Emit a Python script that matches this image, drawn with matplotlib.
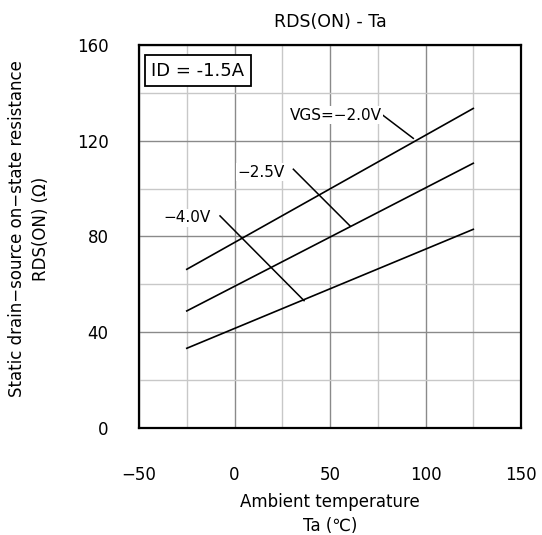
import matplotlib.pyplot as plt
from matplotlib.ticker import MultipleLocator

plt.rcParams['font.family'] = ['DejaVu Sans', 'Noto Sans CJK JP']

# data
ta = [-25, 125]
rds_20 = [66.3, 133.5]   # VGS=-2.0V
rds_25 = [48.9, 110.6]   # -2.5V
rds_40 = [33.3, 83.0]    # -4.0V

series_labels = ['VGS=\u22122.0V', '\u22122.5V', '\u22124.0V']
# leader lines: (x0, y0) -> (x1, y1) in data units
leaders = [((77.6, 130.7), (93.6, 121.0)),
           ((30.8, 108.1), (60.5, 84.4)),
           ((-7.6, 88.6), (36.4, 53.2))]
label_pos = [(77.0, 130.6), (26.4, 106.8), (-12.3, 87.8)]

x_ticks = [-50, 0, 50, 100, 150]
y_ticks = [0, 40, 80, 120, 160]

fig = plt.figure(figsize=(5.42, 5.35), dpi=100)
ax = fig.add_axes([0.2565, 0.2, 0.7048, 0.7159])

ax.set_xlim(-50, 150)
ax.set_ylim(0, 160)
ax.set_xticks(x_ticks)
ax.set_yticks(y_ticks)
ax.xaxis.set_minor_locator(MultipleLocator(25))
ax.yaxis.set_minor_locator(MultipleLocator(20))
ax.grid(which='major', color='#8a8a8a', lw=1.0)
ax.grid(which='minor', color='#c8c8c8', lw=1.0)
ax.set_axisbelow(True)
ax.tick_params(which='both', length=0, labelsize=12)
ax.tick_params(axis='x', pad=27)
ax.tick_params(axis='y', pad=22)
for s in ax.spines.values():
    s.set_linewidth(1.6)
    s.set_color('black')

for ys in (rds_20, rds_25, rds_40):
    ax.plot(ta, ys, color='black', lw=1.2)

for (p0, p1), lab, (lx, ly) in zip(leaders, series_labels, label_pos):
    ax.plot([p0[0], p1[0]], [p0[1], p1[1]], color='black', lw=1.1)
    ax.text(lx, ly, lab, ha='right', va='center', fontsize=11,
            bbox=dict(facecolor='white', edgecolor='none', pad=1))

ax.text(-19.1, 149.3, 'ID = -1.5A', ha='center', va='center', fontsize=13,
        bbox=dict(facecolor='white', edgecolor='black', lw=1.3, pad=5))

ax.set_title('RDS(ON) - Ta', fontsize=12.5, pad=13)
ax.set_xlabel('Ambient temperature\nTa (\u2103)', fontsize=12, linespacing=1.45)
ax.xaxis.set_label_coords(0.5, -0.17)
ax.set_ylabel('Static drain\u2212source on\u2212state resistance\nRDS(ON) (\u03a9)',
              fontsize=12, linespacing=1.45)
ax.yaxis.set_label_coords(-0.233, 0.52)

fig.savefig('out.png', dpi=100)
